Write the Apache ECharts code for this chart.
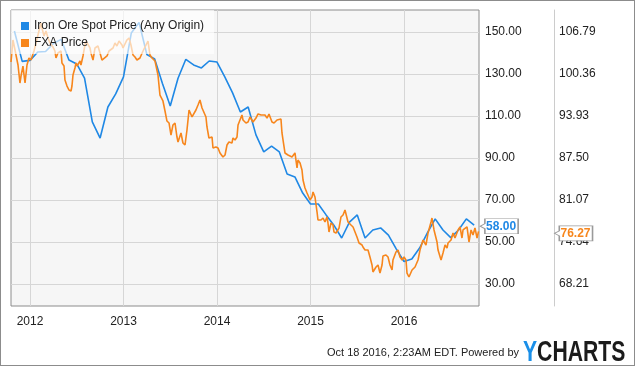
<!DOCTYPE html>
<html>
<head>
<meta charset="utf-8">
<script src="https://cdn.jsdelivr.net/npm/echarts@6/dist/echarts.min.js"></script>
<style>
html,body{margin:0;padding:0;background:#fff;}
#wrap{position:relative;width:635px;height:366px;}
#c{position:absolute;left:0;top:0;width:635px;height:366px;}
#frame{position:absolute;left:0;top:0;width:635px;height:366px;box-sizing:border-box;border:1px solid #8c8c8c;pointer-events:none;}
</style>
</head>
<body>
<div id="wrap"><div id="c"></div><div id="frame"></div></div>
<script>
// ---- data ----
var seriesNames = ['Iron Ore Spot Price (Any Origin)', 'FXA Price'];
var yearTicks = [2012, 2013, 2014, 2015, 2016];
var leftTicks = [30, 50, 70, 90, 110, 130, 150];
var rightTicks = [68.21, 74.64, 81.07, 87.50, 93.93, 100.36, 106.79];

// Iron ore: month-end values
var ironMonths = ['2011-10','2011-11','2011-12','2012-01','2012-02','2012-03','2012-04','2012-05','2012-06','2012-07','2012-08','2012-09','2012-10','2012-11','2012-12',
'2013-01','2013-02','2013-03','2013-04','2013-05','2013-06','2013-07','2013-08','2013-09','2013-10','2013-11','2013-12',
'2014-01','2014-02','2014-03','2014-04','2014-05','2014-06','2014-07','2014-08','2014-09','2014-10','2014-11','2014-12',
'2015-01','2015-02','2015-03','2015-04','2015-05','2015-06','2015-07','2015-08','2015-09','2015-10','2015-11','2015-12',
'2016-01','2016-02','2016-03','2016-04','2016-05','2016-06','2016-07','2016-08','2016-09'];
var ironValues = [150.5,136,136.5,140.5,140.7,144.5,146.5,136.7,134.8,128,107.2,99.5,114.3,120.5,128.6,
149.5,154.5,139.3,137.2,125.5,114.8,128,137,134.3,132.9,136.2,135.7,
128.6,121,111.9,114.3,101,92.9,95.7,92.9,82.4,81,73.3,68.1,
68.1,62.9,58,51.9,59.5,62.9,51.9,55.7,56.7,53.3,46.7,40.7,
41.9,47.1,54.3,61,55.7,52.1,55.7,61,58];

// FXA: dates as decimal years, prices
var fxaDates = [2011.797,2011.818,2011.840,2011.872,2011.893,2011.904,2011.925,2011.947,2011.968,2011.989,
2012.011,2012.043,2012.064,2012.096,2012.118,2012.128,2012.150,2012.171,2012.193,2012.214,2012.246,2012.267,2012.278,2012.299,2012.332,2012.342,2012.364,2012.374,2012.396,2012.417,2012.439,2012.449,2012.460,2012.481,2012.492,2012.503,2012.535,2012.545,2012.567,2012.588,2012.599,2012.620,2012.642,2012.652,2012.674,
2012.695,2012.727,2012.749,2012.770,2012.791,2012.824,2012.845,2012.888,2012.909,2012.930,2012.952,2012.984,2012.995,
2013.037,2013.059,2013.080,2013.102,2013.123,2013.144,2013.176,2013.209,2013.241,2013.262,2013.283,2013.305,2013.337,2013.369,2013.390,2013.422,2013.444,2013.465,2013.487,2013.508,2013.519,2013.529,2013.551,
2013.572,2013.583,2013.615,2013.636,2013.658,2013.679,2013.701,2013.733,2013.754,2013.775,2013.797,2013.818,2013.840,2013.850,2013.882,2013.893,2013.914,2013.947,2013.957,2013.989,
2014.011,2014.032,2014.064,2014.086,2014.107,2014.128,2014.160,2014.171,2014.193,2014.214,2014.225,2014.246,2014.267,2014.278,2014.310,2014.332,2014.353,2014.385,2014.417,
2014.439,2014.471,2014.492,2014.513,2014.535,2014.556,2014.588,2014.610,2014.642,2014.663,2014.684,2014.695,2014.706,2014.727,2014.759,2014.802,2014.834,2014.856,2014.866,2014.888,2014.909,2014.920,2014.941,2014.963,2014.995,
2015.016,2015.027,2015.048,2015.070,2015.080,2015.112,2015.134,2015.155,2015.176,2015.187,2015.198,2015.219,2015.241,2015.251,
2015.273,2015.305,2015.326,2015.348,2015.369,2015.390,2015.401,2015.433,2015.455,2015.476,2015.497,2015.519,2015.551,2015.561,2015.583,2015.604,2015.615,2015.636,2015.658,2015.668,2015.701,2015.722,2015.743,2015.765,2015.775,2015.807,2015.829,2015.850,2015.872,2015.882,2015.914,2015.936,2015.957,2015.979,
2016.000,2016.021,2016.032,2016.053,2016.086,2016.118,2016.150,2016.171,2016.203,2016.235,2016.257,2016.289,2016.299,2016.321,2016.353,2016.364,2016.396,2016.417,2016.439,2016.460,2016.471,2016.503,2016.524,2016.545,2016.578,2016.599,2016.620,2016.631,2016.674,2016.695,2016.717,2016.738,2016.759,2016.781,2016.797];
var fxaValues = [102.20,105.57,104.03,101.74,98.98,100.05,101.58,98.98,101.74,102.81,
102.50,103.88,105.11,106.94,108.17,107.40,106.18,106.94,105.87,105.11,104.49,103.88,102.81,103.58,103.88,102.04,101.58,99.44,98.52,97.91,97.76,98.52,100.21,101.28,102.04,101.58,102.35,101.74,103.12,104.80,105.41,105.11,104.34,103.58,102.50,
104.34,104.65,103.58,102.50,102.35,103.12,103.88,104.34,105.11,104.65,105.41,104.80,104.34,
105.57,105.87,104.80,103.27,102.96,102.50,102.81,103.88,104.80,105.41,103.27,102.81,102.35,100.21,97.14,96.23,94.70,93.16,92.86,91.02,90.87,92.55,92.86,
90.71,89.95,91.33,89.80,89.49,91.79,94.85,93.78,94.08,94.85,95.61,96.38,95.15,95.31,93.78,92.25,90.56,90.71,89.03,89.18,
89.03,88.27,87.65,87.96,89.49,89.95,89.80,90.56,90.26,90.71,92.55,92.25,94.08,93.32,92.86,93.01,93.78,93.01,93.62,
94.24,94.08,93.78,94.08,93.62,94.24,93.01,92.86,93.32,93.62,93.47,91.33,90.26,88.27,87.96,87.65,88.27,85.97,87.19,86.73,85.66,84.13,82.91,82.14,81.07,
81.53,82.29,81.53,79.23,78.01,78.01,78.31,77.70,78.47,77.55,76.17,77.55,77.24,76.17,
76.02,76.78,78.47,78.77,79.54,79.84,77.70,77.24,76.94,77.24,75.40,74.49,74.18,73.87,73.41,73.11,73.41,72.34,71.12,70.05,70.81,71.12,69.89,71.12,72.50,72.65,72.34,71.12,70.35,71.88,73.11,73.41,72.34,71.88,
72.34,71.88,69.89,69.28,70.35,70.81,71.88,73.41,74.95,74.18,76.02,77.70,78.31,76.48,74.64,73.41,71.88,72.96,74.18,73.72,74.49,74.95,76.02,75.25,76.48,76.94,75.25,76.48,76.94,74.64,76.48,75.71,76.78,75.25,76.27];

// ---- build ----
var BLUE = '#1f88e5', ORANGE = '#f7861c';
var FONT = 'Arial, "Liberation Sans", sans-serif';
function monthEnd(s){ var p = s.split('-'); return (+p[0]) + (+p[1]) / 12; }
var ironData = ironMonths.map(function(m, i){ return [monthEnd(m), ironValues[i]]; });
var fxaData = fxaDates.map(function(d, i){ return [d, fxaValues[i]]; });
var ironLast = ironData[ironData.length - 1];
var fxaLast = fxaData[fxaData.length - 1];
var TAG = 'path://M5,0 L40,0 L40,15 L5,15 L5,10 L0,7.5 L5,5 Z';

var chart = echarts.init(document.getElementById('c'), null, {renderer: 'canvas'});
chart.setOption({
  animation: false,
  textStyle: {fontFamily: FONT},
  grid: {left: 11, right: 156, top: 10, bottom: 60, show: true, backgroundColor: '#f6f6f6', borderColor: '#8c8c8c', borderWidth: 1},
  legend: {
    left: 11, top: 10, orient: 'vertical', padding: [10, 10, 5, 10], itemGap: 5,
    itemWidth: 8, itemHeight: 8, icon: 'rect',
    backgroundColor: 'rgba(255,255,255,0.65)',
    textStyle: {fontSize: 12, color: '#222', fontFamily: FONT},
    data: seriesNames
  },
  xAxis: {
    type: 'value', min: 2011.797, max: 2016.802,
    axisLine: {show: false},
    axisTick: {show: false, customValues: yearTicks},
    axisLabel: {customValues: yearTicks, margin: 10, fontSize: 12, color: '#222', formatter: function(v){ return String(Math.round(v)); }},
    splitLine: {show: true, lineStyle: {color: '#d6d6d6', width: 1}}
  },
  yAxis: [{
    type: 'value', position: 'right', min: 19.52, max: 160.48,
    axisLine: {show: false},
    axisTick: {show: false, customValues: leftTicks},
    axisLabel: {customValues: leftTicks, margin: 6, fontSize: 12, color: '#222', formatter: function(v){ return v.toFixed(2); }},
    splitLine: {show: true, lineStyle: {color: '#d6d6d6', width: 1}}
  }, {
    type: 'value', position: 'right', offset: 75, min: 64.841, max: 110.159,
    axisLine: {show: true, lineStyle: {color: '#cccccc', width: 1}},
    axisTick: {show: false, customValues: rightTicks},
    axisLabel: {customValues: rightTicks, margin: 5, fontSize: 12, color: '#222', formatter: function(v){ return v.toFixed(2); }},
    splitLine: {show: false}
  }],
  series: [{
    name: seriesNames[0], type: 'line', yAxisIndex: 0, data: ironData,
    showSymbol: false, symbol: 'none', lineStyle: {color: BLUE, width: 1.6}, itemStyle: {color: BLUE},
    markPoint: {
      symbol: TAG, symbolSize: [38, 15], symbolKeepAspect: false, symbolOffset: [25, 1],
      itemStyle: {color: '#ffffff', borderColor: '#9a9a9a', borderWidth: 1},
      label: {show: true, position: 'inside', offset: [2, 0], color: BLUE, fontWeight: 'bold', fontSize: 12, fontFamily: FONT,
        formatter: function(p){ return p.value.toFixed(2); }},
      data: [{coord: ironLast, value: ironLast[1]}]
    }
  }, {
    name: seriesNames[1], type: 'line', yAxisIndex: 1, data: fxaData,
    showSymbol: false, symbol: 'none', lineStyle: {color: ORANGE, width: 1.6}, itemStyle: {color: ORANGE},
    markPoint: {
      symbol: TAG, symbolSize: [38, 15], symbolKeepAspect: false, symbolOffset: [95, 2],
      itemStyle: {color: '#ffffff', borderColor: '#9a9a9a', borderWidth: 1},
      label: {show: true, position: 'inside', offset: [2, 0], color: ORANGE, fontWeight: 'bold', fontSize: 12, fontFamily: FONT,
        formatter: function(p){ return p.value.toFixed(2); }},
      data: [{coord: fxaLast, value: fxaLast[1]}]
    }
  }],
  graphic: [{
    type: 'text', right: 116, top: 347,
    style: {text: 'Oct 18 2016, 2:23AM EDT. Powered by', fontSize: 11, fill: '#222', fontFamily: FONT}
  }, {
    type: 'text', x: 523, y: 338, scaleX: 0.73,
    style: {text: '{y|Y}{c|CHARTS}', fontFamily: FONT, fontWeight: 'bold', fontSize: 29,
      rich: {y: {fill: '#1a8fe8', fontSize: 29, fontWeight: 'bold', fontFamily: FONT}, c: {fill: '#1b1b1b', fontSize: 29, fontWeight: 'bold', fontFamily: FONT}}}
  }]
});
</script>
</body>
</html>
